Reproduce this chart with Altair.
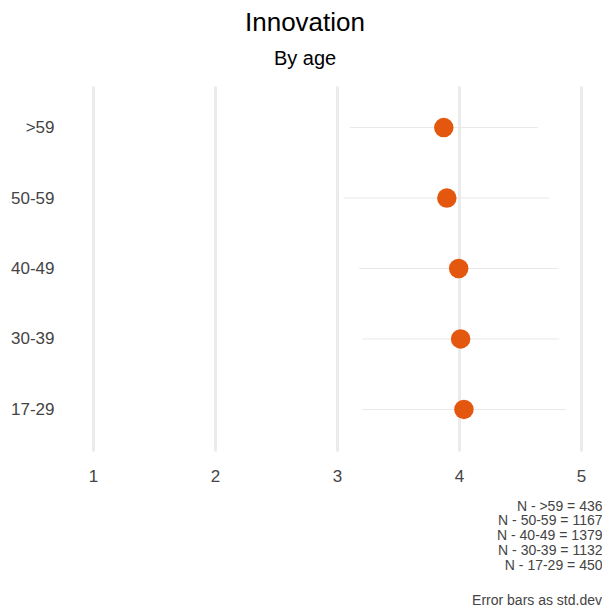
import altair as alt
import pandas as pd

ages = [">59", "50-59", "40-49", "30-39", "17-29"]
means = [3.875, 3.90, 3.997, 4.013, 4.04]
sds = [0.77, 0.845, 0.817, 0.807, 0.838]
ns = [436, 1167, 1379, 1132, 450]

df = pd.DataFrame({"age": ages, "mean": means, "sd": sds})
df["lo"] = df["mean"] - df["sd"]
df["hi"] = df["mean"] + df["sd"]

n_lines = [f"N - {a} = {n}" for a, n in zip(ages, ns)]

FONT = "Liberation Sans"
GREY = "#444444"

xscale = alt.Scale(domain=[0.713, 5.139], nice=False, zero=False)
yenc = alt.Y(
    "age:N",
    sort=ages,
    scale=alt.Scale(type="point", padding=0.59),
    axis=alt.Axis(
        title=None, grid=False, domain=False, ticks=False,
        labelFontSize=17, labelColor=GREY, labelFont=FONT,
        labelPadding=4, minExtent=50,
    ),
)

xaxis = alt.Axis(
    values=[1, 2, 3, 4, 5], format="d", grid=True, gridColor="#ebebeb",
    gridWidth=3, domain=False, ticks=False, labelFontSize=17,
    labelColor=GREY, labelFont=FONT, labelPadding=17,
    title=n_lines, titleFont=FONT, titleFontSize=14, titleFontWeight="normal",
    titleColor=GREY, titleLineHeight=14.9, titleAlign="right", titleAnchor="end",
    titleBaseline="top", titleX=544, titleY=48,
)

base = alt.Chart(df)
bars = base.mark_rule(color="#e8e8e8", strokeWidth=1).encode(
    x=alt.X("lo:Q", scale=xscale, axis=xaxis),
    x2="hi:Q",
    y=yenc,
)
points = base.mark_circle(size=380, color="#E4570F", opacity=1).encode(
    x=alt.X("mean:Q", scale=xscale),
    y=yenc,
)

inner = alt.layer(bars, points).properties(
    width=540, height=365,
    title=alt.TitleParams(
        "Error bars as std.dev", orient="bottom", anchor="end", frame="group",
        dx=4, offset=21, fontSize=14, font=FONT, fontWeight="normal", color=GREY,
    ),
)

chart = alt.vconcat(inner).properties(
    padding={"left": 0, "top": 2, "right": 0, "bottom": 0},
    background="white",
    title=alt.TitleParams(
        text="Innovation", subtitle="By age", anchor="middle",
        font=FONT, fontSize=26, fontWeight="normal", color="black",
        subtitleFont=FONT, subtitleFontSize=20, subtitleColor="black",
        subtitlePadding=13, offset=17,
    ),
).configure_view(strokeWidth=0)

chart.save("out.html", embed_options={"renderer": "svg", "actions": False})
